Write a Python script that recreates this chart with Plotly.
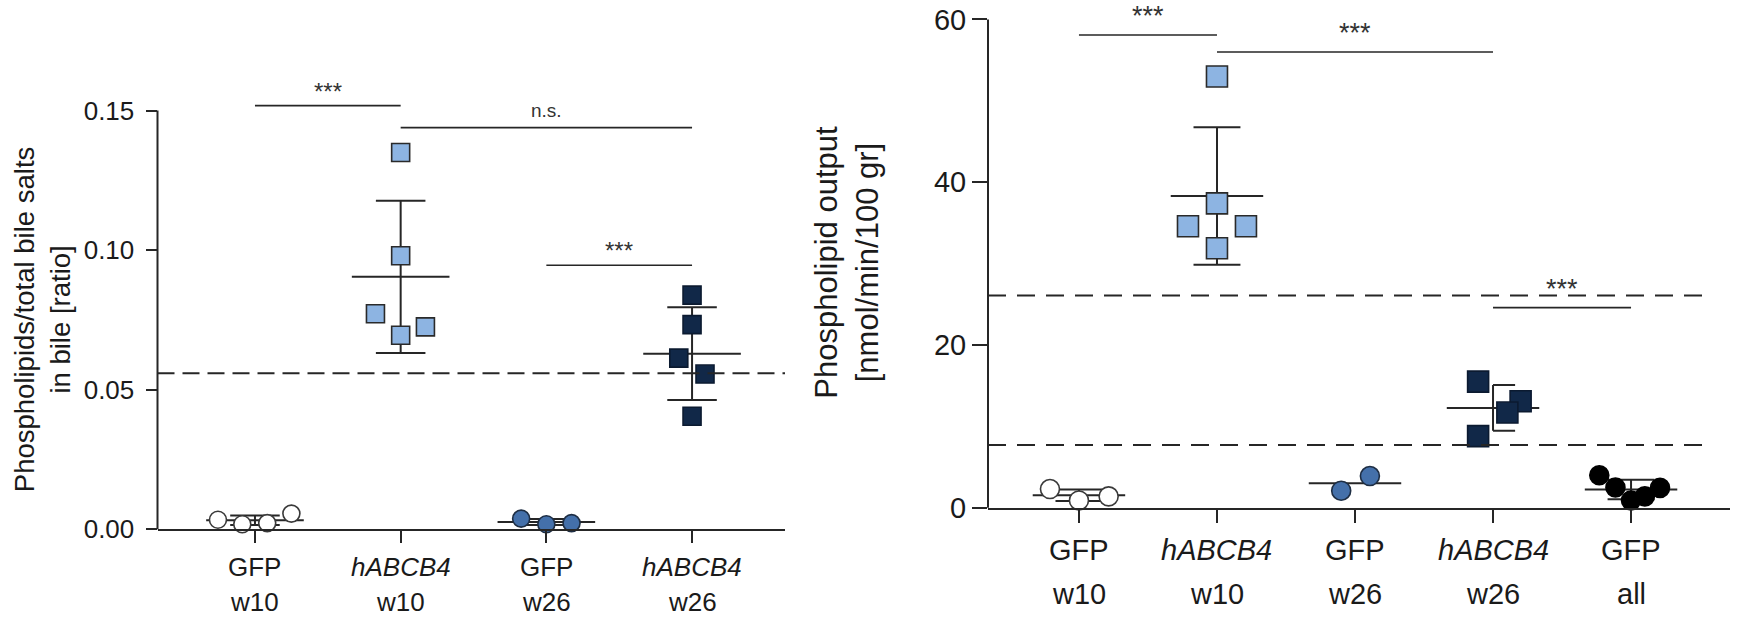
import numpy as np
import plotly.graph_objects as go

# ---------------- data ----------------
# Left panel: phospholipids / total bile salts in bile [ratio]
ratio_gfp_w10 = [0.0034, 0.0018, 0.0022, 0.0056]
ratio_abcb4_w10 = [0.135, 0.098, 0.0772, 0.0725, 0.0695]
ratio_gfp_w26 = [0.0038, 0.0018, 0.0022]
ratio_abcb4_w26 = [0.0839, 0.0733, 0.0613, 0.0556, 0.0405]
ratio_threshold = 0.0559
ratio_yticks = [0.0, 0.05, 0.10, 0.15]

# Right panel: phospholipid output [nmol/min/100 gr]
output_gfp_w10 = [2.3, 0.9, 1.4]
output_abcb4_w10 = [53.0, 37.4, 34.6, 34.6, 31.9]
output_gfp_w26 = [2.1, 3.9]
output_abcb4_w26 = [15.5, 13.1, 11.7, 8.8]
output_gfp_all = [4.0, 2.5, 0.9, 1.4, 2.45]
output_thresholds = [26.1, 7.7]
output_yticks = [0, 20, 40, 60]

# category labels (construct, time point)
ratio_cat_top = ["GFP", "<i>hABCB4</i>", "GFP", "<i>hABCB4</i>"]
ratio_cat_bottom = ["w10", "w10", "w26", "w26"]
output_cat_top = ["GFP", "<i>hABCB4</i>", "GFP", "<i>hABCB4</i>", "GFP"]
output_cat_bottom = ["w10", "w10", "w26", "w26", "all"]

# significance brackets: (from group, to group, bracket height, label)
ratio_sig = [(0, 1, 0.1518, "***"), (1, 3, 0.1439, "n.s."), (2, 3, 0.0946, "***")]
output_sig = [(0, 1, 58.1, "***"), (1, 3, 56.0, "***"), (3, 4, 24.6, "***")]

# ---------------- styles ----------------
W, H = 1739, 631
FONT = "Arial, Liberation Sans, Helvetica, sans-serif"
INK = "#262626"

C_WHITE = "#ffffff"
C_LIGHT = "#8db4e2"
C_MID = "#4470aa"
C_NAVY = "#112848"
C_BLACK = "#000000"

# panel geometry in pixels: x domain (left,right), y domain (top,bottom), ranges
L_XPX = (157.5, 785.0)
L_XR = (-0.669, 3.638)
L_YPX = (60.0, 543.0)
L_YR = (0.0, (543.0 - 60.0) / ((543.0 - 113.5) / 0.15))

R_XPX = (988.0, 1730.0)
R_XR = (-0.659, 4.717)
R_YPX = (0.0, 521.0)
R_YR = (0.0, 521.0 / ((521.0 - 20.0) / 60.0))

left_groups = [
    dict(v=ratio_gfp_w10, color=C_WHITE, line="#3a3a3a", symbol="circle", size=17,
         jit=[-0.254, -0.087, 0.084, 0.25], caps="both", err=True),
    dict(v=ratio_abcb4_w10, color=C_LIGHT, line="#2a2a2a", symbol="square", size=18,
         jit=[0, 0, -0.173, 0.17, 0], caps="both", err=True),
    dict(v=ratio_gfp_w26, color=C_MID, line="#1e2e44", symbol="circle", size=17,
         jit=[-0.173, 0, 0.173], caps="both", err=True),
    dict(v=ratio_abcb4_w26, color=C_NAVY, line="#0b1a30", symbol="square", size=18,
         jit=[0, 0, -0.091, 0.089, 0], caps="both", err=True),
]
right_groups = [
    dict(v=output_gfp_w10, color=C_WHITE, line="#3a3a3a", symbol="circle", size=19,
         jit=[-0.21, 0.0, 0.215], caps="both", err=True),
    dict(v=output_abcb4_w10, color=C_LIGHT, line="#2a2a2a", symbol="square", size=21,
         jit=[0, 0, -0.21, 0.21, 0], caps="both", err=True),
    dict(v=output_gfp_w26, color=C_MID, line="#1e2e44", symbol="circle", size=19,
         jit=[-0.10, 0.108], caps=None, err=False),
    dict(v=output_abcb4_w26, color=C_NAVY, line="#0b1a30", symbol="square", size=21,
         jit=[-0.108, 0.20, 0.104, -0.108], caps="right", err=True),
    dict(v=output_gfp_all, color=C_BLACK, line="#000000", symbol="circle", size=19,
         jit=[-0.23, -0.113, 0.0, 0.10, 0.21], caps="both", err=True),
]

MEAN_HW = 0.335
CAP_HW = 0.17


def dom(px_pair, total, vertical=False):
    a, b = px_pair
    if vertical:
        return [1 - b / total, 1 - a / total]
    return [a / total, b / total]


fig = go.Figure()


def add_panel(groups, xa, ya):
    # mean +/- SD bars drawn first so the markers sit on top
    ex, ey = [], []
    for i, g in enumerate(groups):
        v = np.asarray(g["v"], dtype=float)
        m = v.mean()
        ex += [i - MEAN_HW, i + MEAN_HW, None]
        ey += [m, m, None]
        if g["err"] and len(v) > 1:
            sd = v.std(ddof=1)
            lo, hi = m - sd, m + sd
            ex += [i, i, None]
            ey += [lo, hi, None]
            if g["caps"] == "right":
                c0, c1 = i, i + CAP_HW - 0.01
            else:
                c0, c1 = i - CAP_HW, i + CAP_HW
            for yy in (lo, hi):
                ex += [c0, c1, None]
                ey += [yy, yy, None]
    fig.add_trace(go.Scatter(x=ex, y=ey, mode="lines", xaxis=xa, yaxis=ya,
                             line=dict(color=INK, width=2), hoverinfo="skip",
                             showlegend=False))
    for i, g in enumerate(groups):
        xs = [i + j for j in g["jit"]]
        fig.add_trace(go.Scatter(
            x=xs, y=g["v"], mode="markers", xaxis=xa, yaxis=ya, cliponaxis=False,
            marker=dict(symbol=g["symbol"], size=g["size"], color=g["color"],
                        line=dict(color=g["line"], width=1.6)),
            showlegend=False))


add_panel(left_groups, "x", "y")
add_panel(right_groups, "x2", "y2")

axis_common = dict(showgrid=False, zeroline=False, ticks="outside",
                   tickcolor=INK, tickwidth=2, linecolor=INK, linewidth=2,
                   tickfont=dict(family=FONT, color="#1a1a1a"))

fig.update_layout(
    width=W, height=H, margin=dict(l=0, r=0, t=0, b=0),
    paper_bgcolor="white", plot_bgcolor="white", showlegend=False,
    xaxis=dict(axis_common, domain=dom(L_XPX, W), range=list(L_XR), anchor="y",
               showline=True, tickvals=list(range(4)), ticktext=[""] * 4, ticklen=12),
    yaxis=dict(axis_common, domain=dom(L_YPX, H, True), range=list(L_YR), anchor="x",
               showline=False, tickvals=ratio_yticks, tickformat=".2f", ticklen=11,
               ticklabelstandoff=6, tickfont=dict(family=FONT, size=26, color="#1a1a1a")),
    xaxis2=dict(axis_common, domain=dom(R_XPX, W), range=list(R_XR), anchor="y2",
                showline=True, tickvals=list(range(5)), ticktext=[""] * 5, ticklen=13),
    yaxis2=dict(axis_common, domain=dom(R_YPX, H, True), range=list(R_YR), anchor="x2",
                showline=False, tickvals=output_yticks, ticklen=15,
                tickfont=dict(family=FONT, size=29, color="#1a1a1a")),
)

shapes = []
annotations = []


def y_paper(val, yr, ypx):
    top, bot = ypx
    pix = bot - (val - yr[0]) / (yr[1] - yr[0]) * (bot - top)
    return 1 - pix / H


# y-axis lines, stopping at the top tick
for xpx, yr, ypx, ytop in ((L_XPX, L_YR, L_YPX, ratio_yticks[-1]),
                           (R_XPX, R_YR, R_YPX, output_yticks[-1])):
    shapes.append(dict(type="line", xref="paper", yref="paper",
                       x0=xpx[0] / W, x1=xpx[0] / W,
                       y0=y_paper(0, yr, ypx), y1=y_paper(ytop, yr, ypx),
                       line=dict(color=INK, width=2)))

# dashed reference lines
shapes.append(dict(type="line", xref="x domain", yref="y", x0=0, x1=1,
                   y0=ratio_threshold, y1=ratio_threshold,
                   line=dict(color=INK, width=2, dash="17px,8px")))
for t in output_thresholds:
    shapes.append(dict(type="line", xref="x2 domain", yref="y2", x0=0, x1=0.975,
                       y0=t, y1=t, line=dict(color=INK, width=2, dash="18px,11px")))

# significance brackets
for sig, xr, yr, size, lift in ((ratio_sig, "x", "y", 24, -1), (output_sig, "x2", "y2", 27, 2)):
    for a, b, h, lab in sig:
        shapes.append(dict(type="line", xref=xr, yref=yr, x0=a, x1=b, y0=h, y1=h,
                           line=dict(color=INK, width=1.6)))
        is_ns = lab == "n.s."
        annotations.append(dict(
            xref=xr, yref=yr, x=(a + b) / 2, y=h, text=lab, showarrow=False,
            yanchor="bottom", yshift=(5 if is_ns else lift),
            font=dict(family=FONT, size=(19 if is_ns else size), color="#333333")))

# category labels below the x axes
for tops, bots, xr, yr, size, d1, d2 in (
        (ratio_cat_top, ratio_cat_bottom, "x", "y", 26, 38, 73),
        (output_cat_top, output_cat_bottom, "x2", "y2", 29, 42, 86)):
    for i, (t, b) in enumerate(zip(tops, bots)):
        for txt, d in ((t, d1), (b, d2)):
            annotations.append(dict(
                xref=xr, yref=yr, x=i, y=0, text=txt, showarrow=False,
                yanchor="middle", yshift=-d,
                font=dict(family=FONT, size=size, color="#1a1a1a")))

# y-axis titles
annotations.append(dict(xref="paper", yref="paper", x=42.5 / W, y=1 - 328 / H,
                        text="Phospholipids/total bile salts<br>in bile [ratio]",
                        textangle=-90, showarrow=False, xanchor="center", yanchor="middle",
                        font=dict(family=FONT, size=27.5, color="#1a1a1a")))
annotations.append(dict(xref="paper", yref="paper", x=846.5 / W, y=1 - 269 / H,
                        text="Phospholipid output<br>[nmol/min/100 gr]",
                        textangle=-90, showarrow=False, xanchor="center", yanchor="middle",
                        font=dict(family=FONT, size=31, color="#1a1a1a")))

fig.update_layout(shapes=shapes, annotations=annotations)
fig.write_html("out.html")
